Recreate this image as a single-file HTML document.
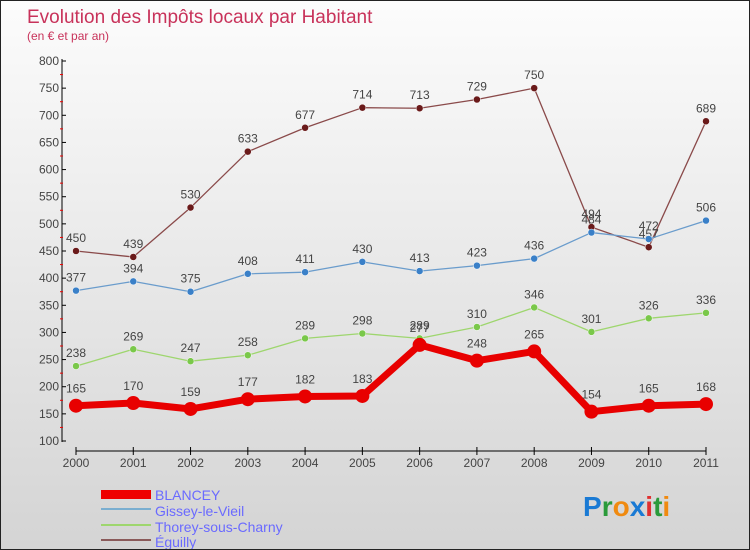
<!DOCTYPE html>
<html><head><meta charset="utf-8"><style>
body{margin:0}
#c{width:750px;height:550px;position:relative;overflow:hidden;box-sizing:border-box;border:1px solid #222;background:linear-gradient(#fcfcfc,#d4d4d4);font-family:"Liberation Sans",sans-serif}
text{font-family:"Liberation Sans",sans-serif}
</style></head><body>
<div id="c">
<svg id="s" width="750" height="550">
<text x="26" y="22" font-size="19" fill="#c8325a">Evolution des Impôts locaux par Habitant</text>
<text x="26" y="39" font-size="12" fill="#c8325a">(en € et par an)</text>
<g id="axes"></g><g id="series"></g>
<g>
<rect x="100" y="489" width="50" height="9" fill="#e00"/>
<text x="154" y="499" font-size="14" fill="#6a6aff">BLANCEY</text>
<line x1="100" y1="508" x2="150" y2="508" stroke="#7aaed0" stroke-width="2"/>
<text x="154" y="515" font-size="14" fill="#6a6aff">Gissey-le-Vieil</text>
<line x1="100" y1="524" x2="150" y2="524" stroke="#9ed66e" stroke-width="2"/>
<text x="154" y="531" font-size="14" fill="#6a6aff">Thorey-sous-Charny</text>
<line x1="100" y1="539" x2="150" y2="539" stroke="#8a5a5a" stroke-width="2"/>
<text x="154" y="546" font-size="14" fill="#6a6aff">Éguilly</text>
</g>
<text x="582" y="515" font-size="28" font-weight="bold"><tspan fill="#1a7ad4">P</tspan><tspan fill="#2a9a3a">r</tspan><tspan fill="#f08a10">o</tspan><tspan fill="#1a7ad4">x</tspan><tspan fill="#e03030">i</tspan><tspan fill="#2a9a3a">t</tspan><tspan fill="#f08a10">i</tspan></text>
</svg>
</div>
<script>
const years=["2000","2001","2002","2003","2004","2005","2006","2007","2008","2009","2010","2011"];
const blancey=[165,170,159,177,182,183,277,248,265,154,165,168];
const gissey=[377,394,375,408,411,430,413,423,436,484,472,506];
const thorey=[238,269,247,258,289,298,289,310,346,301,326,336];
const eguilly=[450,439,530,633,677,714,713,729,750,494,457,689];
const yTicks=[100,150,200,250,300,350,400,450,500,550,600,650,700,750,800];
const NS="http://www.w3.org/2000/svg";
const X=i=>75+i*(630/11), Y=v=>440-(v-100)*(380/700);
function mk(t,a,p){const e=document.createElementNS(NS,t);for(const k in a)e.setAttribute(k,a[k]);p.appendChild(e);return e;}
const ax=document.getElementById('axes'), sg=document.getElementById('series');
let l=mk('line',{x1:61,y1:58,x2:61,y2:441,stroke:'#000'},ax);

l=mk('line',{x1:75,y1:450,x2:705,y2:450,stroke:'#000'},ax);

yTicks.forEach(v=>{mk('line',{x1:61,y1:Y(v),x2:65,y2:Y(v),stroke:'#000'},ax);
 if(v<800)mk('line',{x1:59,y1:Y(v+25),x2:62,y2:Y(v+25),stroke:'#e00'},ax);
 const t=mk('text',{x:58,y:Y(v)+4,'font-size':12,fill:'#444','text-anchor':'end'},ax);t.textContent=v;
 });
years.forEach((y,i)=>{mk('line',{x1:X(i),y1:446,x2:X(i),y2:454,stroke:'#000'},ax);
 const t=mk('text',{x:X(i),y:466,'font-size':12,fill:'#444','text-anchor':'middle'},ax);t.textContent=y;
 });
function series(d,col,dot,w,r,name){
 const g=mk('g',{},sg);
 mk('polyline',{points:d.map((v,i)=>X(i)+','+Y(v)).join(' '),fill:'none',stroke:col,'stroke-width':w,'stroke-linejoin':'round'},g);
 d.forEach((v,i)=>{const c=mk('circle',{cx:X(i),cy:Y(v),r:r,fill:dot,stroke:r>4?'none':'#fff','stroke-width':0.5},g);
  
  const t=mk('text',{x:X(i),y:Y(v)-(r>4?13:9),'font-size':12,fill:'#444','text-anchor':'middle'},g);t.textContent=v;
  });
}
series(eguilly,'#8a4a4a','#6a1a1a',1.3,3.5,'eguilly');
series(thorey,'#9ed66e','#7ac84a',1.3,3.5,'thorey');
series(gissey,'#6a9ccc','#3a80c8',1.3,3.5,'gissey');
series(blancey,'#e80000','#e80000',7,7,'blancey');
</script>
</body></html>
